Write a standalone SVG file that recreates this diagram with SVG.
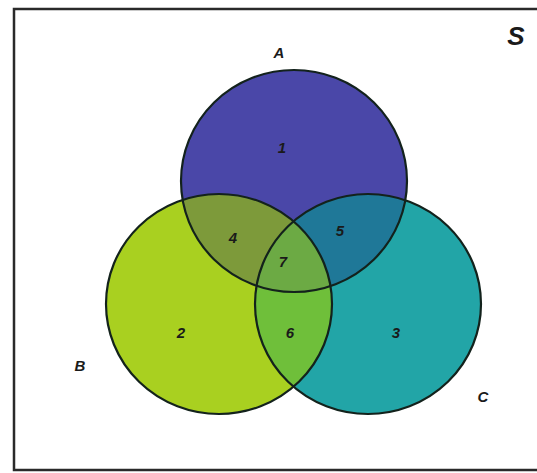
<svg xmlns="http://www.w3.org/2000/svg" width="537" height="473" viewBox="0 0 537 473">
<style>
.lbl{font-family:"Liberation Sans",Arial,sans-serif;font-weight:bold;font-style:italic;fill:#1a1a1a;text-anchor:middle}
.set{font-size:15px}
.num{font-size:15px}
.edge{fill:none;stroke:#13221c;stroke-width:2.2}
</style>
<defs>
<ellipse id="eA" cx="294" cy="181" rx="113" ry="111"/>
<ellipse id="eB" cx="219" cy="304" rx="113" ry="110"/>
<ellipse id="eC" cx="368" cy="304" rx="113" ry="110"/>
<clipPath id="cB"><use href="#eB"/></clipPath>
<clipPath id="cC"><use href="#eC"/></clipPath>
</defs>
<rect id="universe" x="14" y="9" width="540" height="461" fill="#ffffff" stroke="#2a2a2a" stroke-width="2.5"/>
<text class="lbl" x="516" y="45" font-size="26px">S</text>
<g id="fills">
<use href="#eA" fill="#4a47a8"/>
<use href="#eB" fill="#a9d020"/>
<use href="#eC" fill="#22a5a7"/>
<use href="#eA" fill="#7d9a3a" clip-path="url(#cB)"/>
<use href="#eA" fill="#1f7898" clip-path="url(#cC)"/>
<use href="#eB" fill="#6fbf3a" clip-path="url(#cC)"/>
<g clip-path="url(#cC)"><use href="#eA" fill="#6caa44" clip-path="url(#cB)"/></g>
</g>
<g id="setA">
<use href="#eA" class="edge"/>
<text class="lbl set" x="279" y="58">A</text>
</g>
<g id="setB">
<use href="#eB" class="edge"/>
<text class="lbl set" x="80" y="371">B</text>
</g>
<g id="setC">
<use href="#eC" class="edge"/>
<text class="lbl set" x="483" y="402">C</text>
</g>
<g id="regions">
<text class="lbl num" x="282" y="153">1</text>
<text class="lbl num" x="181" y="338">2</text>
<text class="lbl num" x="396" y="338">3</text>
<text class="lbl num" x="233" y="243">4</text>
<text class="lbl num" x="340" y="236">5</text>
<text class="lbl num" x="290" y="338">6</text>
<text class="lbl num" x="283" y="267">7</text>
</g>
</svg>
